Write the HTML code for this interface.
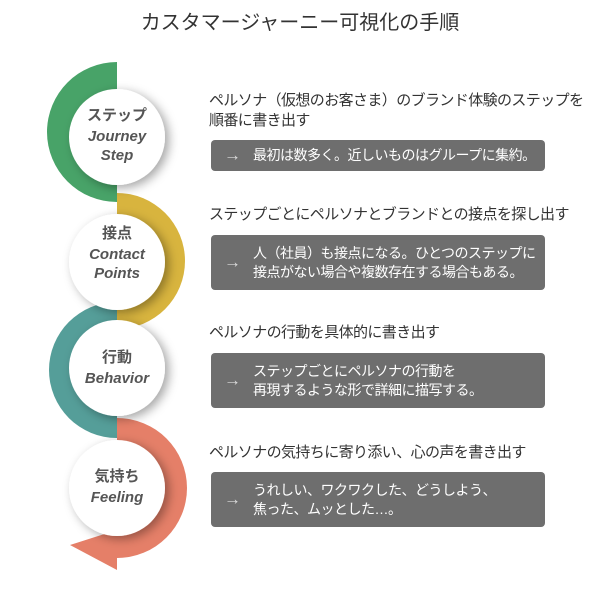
<!DOCTYPE html>
<html><head><meta charset="utf-8"><style>
body{margin:0;width:600px;height:600px;background:#fff;position:relative;overflow:hidden;font-family:"Liberation Sans","Noto Sans CJK JP",sans-serif;color:#333}
.t{position:absolute;left:0;width:600px;top:6px;text-align:center;font-size:20px;color:#333}
.h{position:absolute;left:209px;font-size:15px;line-height:20px;color:#333;white-space:nowrap;letter-spacing:-0.6px}
.b{position:absolute;left:211px;width:334px;background:#6e6e6e;border-radius:4px;color:#fff;font-size:14px;line-height:19px;box-sizing:border-box;padding-left:42px;display:flex;flex-direction:column;justify-content:center;white-space:nowrap;letter-spacing:-0.5px}
.b:before{content:"→";position:absolute;left:13px;top:50%;transform:translateY(-55%);font-size:17px;color:#ddd}
.c{position:absolute;text-align:center;color:#555;font-size:15px;font-weight:bold;line-height:19px}
.c i{display:block;font-family:"Liberation Sans",sans-serif;font-size:15px}
</style></head><body>
<div class="t">カスタマージャーニー可視化の手順</div>
<svg width="600" height="600" style="position:absolute;left:0;top:0">
<defs><filter id="s" x="-50%" y="-50%" width="200%" height="200%"><feDropShadow dx="4" dy="3" stdDeviation="5" flood-color="#000" flood-opacity="0.35"/></filter></defs>
<path d="M117 62 A70 70 0 0 0 117 202 Z" fill="#48a368"/>
<path d="M117 193 A68 68 0 0 1 117 329 Z" fill="#d8b43e"/>
<path d="M117 302 A68 68 0 0 0 117 438 Z" fill="#559e99"/>
<path d="M117 418 A70 70 0 0 1 117 558 Z" fill="#e57f68"/>
<path d="M70 545 L117 530 L117 570 Z" fill="#e57f68"/>
<circle cx="117" cy="137" r="48" fill="#fff" filter="url(#s)"/>
<circle cx="117" cy="262" r="48" fill="#fff" filter="url(#s)"/>
<circle cx="117" cy="368" r="48" fill="#fff" filter="url(#s)"/>
<circle cx="117" cy="488" r="48" fill="#fff" filter="url(#s)"/>
</svg>
<div class="c" style="left:67px;width:100px;top:106px">ステップ<i style="margin-top:2px">Journey</i><i>Step</i></div>
<div class="c" style="left:67px;width:100px;top:224px">接点<i style="margin-top:2px">Contact</i><i>Points</i></div>
<div class="c" style="left:67px;width:100px;top:348px">行動<i style="margin-top:2px">Behavior</i></div>
<div class="c" style="left:67px;width:100px;top:467px">気持ち<i style="margin-top:2px">Feeling</i></div>
<div class="h" style="top:91px">ペルソナ（仮想のお客さま）のブランド体験のステップを<br>順番に書き出す</div>
<div class="b" style="top:140px;height:31px">最初は数多く。近しいものはグループに集約。</div>
<div class="h" style="top:205px">ステップごとにペルソナとブランドとの接点を探し出す</div>
<div class="b" style="top:235px;height:55px"><span>人（社員）も接点になる。ひとつのステップに</span><span>接点がない場合や複数存在する場合もある。</span></div>
<div class="h" style="top:323px">ペルソナの行動を具体的に書き出す</div>
<div class="b" style="top:353px;height:55px"><span>ステップごとにペルソナの行動を</span><span>再現するような形で詳細に描写する。</span></div>
<div class="h" style="top:443px">ペルソナの気持ちに寄り添い、心の声を書き出す</div>
<div class="b" style="top:472px;height:55px"><span>うれしい、ワクワクした、どうしよう、</span><span>焦った、ムッとした…。</span></div>
</body></html>
